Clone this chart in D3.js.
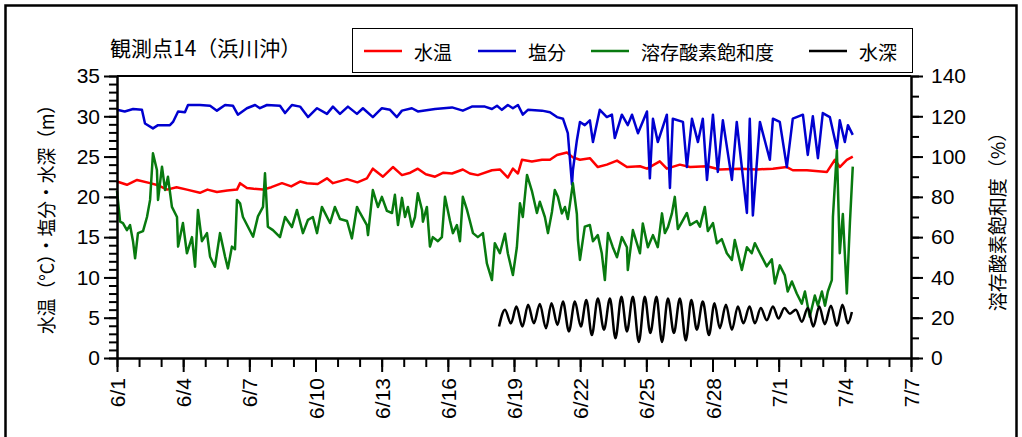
<!DOCTYPE html>
<html>
<head>
<meta charset="utf-8">
<script src="https://cdn.jsdelivr.net/npm/d3@7"></script>
<style>
    body { margin: 0; background: #fff; }
    text { font-family: "Liberation Sans", Arial, sans-serif; }
    .jp { font-family: "Noto Sans CJK JP", sans-serif; }
</style>
</head>
<body>
<div id="wrapper"></div>
<script>
// time = days since 6/1 00:00
const xTickLabels = ["6/1","6/4","6/7","6/10","6/13","6/16","6/19","6/22","6/25","6/28","7/1","7/4","7/7"];
const seriesNames = ["水温", "塩分", "溶存酸素飽和度", "水深"];
const seriesColors = ["#ff0000", "#0000d0", "#087a0f", "#000000"];

// 水温 (°C)
const tempData = [
    [0.00,21.9],[0.45,21.5],[0.91,22.1],[1.50,21.7],[1.90,21.4],[2.27,20.9],[2.70,21.2],[3.17,20.9],
    [3.76,20.5],[4.10,20.9],[4.53,20.6],[5.00,20.8],[5.44,20.9],[5.58,21.7],[5.89,21.1],[6.20,21.0],
    [6.62,20.9],[7.00,21.2],[7.48,21.7],[7.90,21.3],[8.30,21.9],[8.61,21.7],[9.10,21.6],[9.52,22.3],
    [9.79,21.7],[10.43,22.2],[10.90,21.8],[11.33,22.3],[11.60,23.5],[12.06,22.5],[12.51,23.7],[12.92,22.7],
    [13.30,23.0],[13.64,23.5],[14.00,22.8],[14.42,22.5],[14.80,23.0],[15.19,22.9],[15.68,23.4],[16.00,22.9],
    [16.36,22.7],[17.00,23.3],[17.36,23.4],[17.72,22.4],[17.95,23.5],[18.18,22.9],[18.36,24.6],[18.81,24.4],
    [19.27,24.6],[19.63,24.6],[19.95,25.2],[20.40,25.5],[20.67,24.9],[20.99,24.6],[21.44,24.8],[21.80,23.7],
    [22.21,24.0],[22.67,24.5],[23.12,23.7],[23.71,23.8],[24.03,23.5],[24.61,24.4],[24.93,23.5],[25.52,24.0],
    [25.98,23.7],[26.75,23.8],[27.33,23.4],[28.24,23.5],[29.01,23.4],[29.74,23.5],[30.37,23.7],[30.64,23.3],
    [31.28,23.3],[32.19,23.1],[32.55,24.6],[32.77,23.7],[33.09,24.6],[33.36,25.0]
];

// 塩分
const salData = [
    [0.00,30.8],[0.35,30.6],[0.73,30.9],[1.13,30.8],[1.27,29.1],[1.63,28.5],[1.86,28.9],[2.40,28.9],
    [2.54,29.3],[2.77,30.6],[3.08,30.5],[3.22,31.4],[3.76,31.4],[4.22,31.3],[4.53,30.7],[4.90,31.4],
    [5.26,31.3],[5.48,30.2],[5.89,31.0],[6.26,31.4],[6.48,31.0],[6.80,31.4],[7.39,31.3],[7.62,30.4],
    [7.93,31.4],[8.30,31.2],[8.66,29.9],[9.07,31.0],[9.52,30.3],[9.79,31.2],[10.11,30.3],[10.47,31.2],
    [10.88,30.3],[11.15,31.0],[11.60,29.9],[12.01,31.0],[12.38,30.8],[12.69,29.9],[12.92,30.7],[13.37,31.0],
    [13.64,30.6],[14.42,30.9],[15.19,31.1],[15.68,30.7],[16.09,31.2],[16.68,31.2],[17.00,30.9],[17.23,31.3],
    [17.45,30.8],[17.72,31.4],[17.95,31.0],[18.18,31.4],[18.40,30.2],[18.63,30.8],[19.27,30.7],[19.63,30.5],
    [19.95,29.9],[20.22,29.7],[20.44,27.9],[20.63,21.5],[20.67,23.3],[20.85,27.0],[20.99,29.3],[21.21,28.9],
    [21.44,29.5],[21.58,26.8],[21.89,30.8],[22.21,29.9],[22.44,30.2],[22.57,27.3],[22.89,30.2],[23.16,28.9],
    [23.35,30.2],[23.62,27.9],[24.03,30.6],[24.16,22.3],[24.30,29.7],[24.52,26.8],[24.93,30.2],[25.07,21.1],
    [25.20,29.7],[25.66,29.3],[25.84,23.7],[26.07,29.7],[26.34,26.8],[26.56,29.7],[26.75,22.1],[27.02,30.2],
    [27.24,23.1],[27.47,29.5],[27.88,22.1],[28.10,29.3],[28.56,18.0],[28.69,29.7],[28.83,17.7],[29.15,29.3],
    [29.60,24.6],[29.74,29.7],[30.05,29.3],[30.37,23.7],[30.64,29.7],[31.10,30.2],[31.32,25.2],[31.55,30.0],
    [31.78,24.8],[32.00,30.4],[32.32,29.9],[32.64,26.0],[32.77,29.5],[33.00,26.8],[33.14,28.9],[33.36,27.7]
];

// 溶存酸素飽和度 (%)
const doData = [
    [0.00,83],[0.14,67.7],[0.27,67],[0.45,63.5],[0.59,66],[0.73,57.7],[0.82,49.5],[0.95,62],
    [1.18,63],[1.36,70],[1.50,78.5],[1.63,101.6],[1.81,93.3],[1.86,78.5],[2.04,95],[2.18,83.4],
    [2.31,90],[2.49,75],[2.72,70],[2.77,55.3],[2.99,67],[3.17,52],[3.40,60],[3.54,45.3],
    [3.67,73.5],[3.85,58],[4.08,62],[4.22,50.3],[4.44,45.3],[4.67,62],[4.90,50.3],[5.03,44.5],
    [5.21,55.3],[5.35,54],[5.44,78.5],[5.58,76.8],[5.71,70],[6.17,60.2],[6.39,70.3],[6.62,75],
    [6.71,91.7],[6.84,65.2],[7.07,63.5],[7.39,60],[7.62,70],[7.93,65],[8.16,73.5],[8.43,62],
    [8.66,68.6],[8.88,70],[9.07,62],[9.29,75],[9.66,67],[9.88,75],[10.11,69],[10.43,68],
    [10.65,59.4],[10.88,75],[11.02,72],[11.33,66],[11.38,61],[11.60,83.4],[11.83,75],[12.01,80],
    [12.24,73],[12.47,72],[12.60,81],[12.74,66],[12.92,79.5],[13.06,70],[13.19,75],[13.37,65.2],
    [13.51,70],[13.64,81.8],[13.83,73.5],[13.87,67.7],[14.05,75],[14.19,55.3],[14.32,60],[14.55,58],
    [14.73,60],[14.87,80],[15.10,68],[15.23,62],[15.41,66],[15.55,58],[15.68,80],[15.87,73.5],
    [16.00,68],[16.14,62],[16.36,60],[16.59,62],[16.77,47],[17.00,38.7],[17.13,57],[17.36,52],
    [17.59,61.7],[17.72,52],[17.95,41.2],[18.13,55],[18.27,76.8],[18.40,70],[18.59,90.9],[18.81,83],
    [19.04,72],[19.17,77.6],[19.40,70],[19.54,62],[19.72,72.5],[19.85,83.4],[19.99,80],[20.17,71.8],
    [20.31,75],[20.44,69],[20.67,86.7],[20.85,71.5],[20.90,58.6],[20.99,48.7],[21.21,65.2],[21.44,66],
    [21.58,58],[21.80,61],[21.98,52],[22.12,38.7],[22.26,62],[22.48,55],[22.67,50],[22.89,60],
    [23.12,55],[23.16,43.7],[23.39,63.5],[23.71,52],[23.84,66.8],[24.07,55],[24.30,61],[24.52,55],
    [24.71,71.8],[24.84,62],[24.98,65],[25.16,71.8],[25.29,80],[25.43,64],[25.66,68.5],[25.84,72],
    [25.98,66],[26.29,68],[26.43,65.2],[26.65,75],[26.79,63],[27.02,67],[27.20,57],[27.42,59],
    [27.65,52],[27.88,48.7],[28.01,58.6],[28.33,43.7],[28.56,55],[28.78,52],[28.92,57],[29.15,52],
    [29.46,45.5],[29.69,49],[29.83,37],[30.05,46],[30.28,41],[30.41,33],[30.60,38],[30.82,32],
    [31.05,27],[31.19,33],[31.41,20.5],[31.64,31],[31.78,26],[31.96,33],[32.10,26],[32.23,33],
    [32.41,38.7],[32.46,70],[32.64,103],[32.77,52],[32.91,71.5],[33.09,32],[33.23,67],[33.36,95]
];

// 水深 (m): high / low water
const depthData = [
    [17.32,3.9],[17.59,6.0],[17.86,4.3],[18.11,6.4],[18.38,3.9],[18.64,6.6],[18.90,4.3],[19.17,6.7],
    [19.45,3.7],[19.70,6.8],[19.97,4.1],[20.22,7.0],[20.49,3.3],[20.76,7.0],[21.03,3.9],[21.28,7.2],
    [21.53,2.85],[21.80,7.4],[22.08,3.5],[22.35,7.4],[22.60,2.45],[22.87,7.6],[23.12,3.3],[23.39,7.6],
    [23.66,2.0],[23.93,7.6],[24.18,3.1],[24.46,7.6],[24.71,2.0],[24.98,7.4],[25.25,3.1],[25.52,7.4],
    [25.79,2.2],[26.04,7.2],[26.29,3.5],[26.56,7.0],[26.84,2.85],[27.09,6.8],[27.33,3.7],[27.61,6.6],
    [27.88,3.5],[28.15,6.4],[28.40,4.3],[28.68,6.4],[28.92,4.3],[29.19,6.2],[29.46,4.7],[29.74,6.4],
    [29.99,4.9],[30.26,6.2],[30.51,5.5],[30.78,6.0],[31.05,4.5],[31.32,6.2],[31.57,3.9],[31.84,6.4],
    [32.09,4.2],[32.37,6.5],[32.64,4.0],[32.89,6.6],[33.14,4.3],[33.32,5.7]
];

const dimension = {
    width: 1022,
    height: 437,
    margin: { top: 76, right: 111, bottom: 79, left: 117 }
};
dimension.boundedWidth = dimension.width - dimension.margin.left - dimension.margin.right;
dimension.boundedHeight = dimension.height - dimension.margin.top - dimension.margin.bottom;

const svg = d3.select("#wrapper")
    .append("svg")
    .attr("width", dimension.width)
    .attr("height", dimension.height);

// outer frame
svg.append("rect")
    .attr("x", 5.5).attr("y", 5.5)
    .attr("width", 1011).attr("height", 460)
    .attr("fill", "none").attr("stroke", "#000").attr("stroke-width", 2.5);

const bounds = svg.append("g")
    .attr("transform", `translate(${dimension.margin.left},${dimension.margin.top})`);

const x = d3.scaleLinear().domain([0, 36]).range([0, dimension.boundedWidth]);
const yL = d3.scaleLinear().domain([0, 35]).range([dimension.boundedHeight, 0]);
const yR = d3.scaleLinear().domain([0, 140]).range([dimension.boundedHeight, 0]);

// plot frame (top line)
bounds.append("line")
    .attr("x1", 0).attr("x2", dimension.boundedWidth)
    .attr("y1", 0).attr("y2", 0)
    .attr("stroke", "#000").attr("stroke-width", 2);

// series
const series = [
    { data: tempData, y: yL, color: seriesColors[0], curve: d3.curveLinear },
    { data: salData, y: yL, color: seriesColors[1], curve: d3.curveLinear },
    { data: doData, y: yR, color: seriesColors[2], curve: d3.curveLinear },
    { data: depthData, y: yL, color: seriesColors[3], curve: d3.curveMonotoneX }
];
series.forEach(s => {
    const line = d3.line()
        .x(d => x(d[0]))
        .y(d => s.y(d[1]))
        .curve(s.curve);
    bounds.append("path")
        .datum(s.data)
        .attr("d", line)
        .attr("fill", "none")
        .attr("stroke", s.color)
        .attr("stroke-width", 2.5)
        .attr("stroke-linejoin", "round");
});

function styleAxis(g) {
    g.selectAll(".domain").attr("stroke", "#000").attr("stroke-width", 2);
    g.selectAll(".tick line").attr("stroke", "#000").attr("stroke-width", 2);
    g.selectAll("text").attr("fill", "#000").style("font-size", "21px")
        .style("font-family", "'Liberation Sans', Arial, sans-serif");
}

// left axis
bounds.append("g")
    .call(d3.axisLeft(yL).tickValues(d3.range(0, 36, 1)).tickSize(8).tickSizeOuter(0).tickFormat(""))
    .call(styleAxis);
bounds.append("g")
    .call(d3.axisLeft(yL).tickValues(d3.range(0, 36, 5)).tickSize(13).tickSizeOuter(0).tickPadding(4))
    .call(styleAxis);

// right axis
const rightAxis = bounds.append("g").attr("transform", `translate(${dimension.boundedWidth},0)`);
rightAxis.append("g")
    .call(d3.axisRight(yR).tickValues(d3.range(0, 141, 10)).tickSize(8).tickSizeOuter(0).tickFormat(""))
    .call(styleAxis);
rightAxis.append("g")
    .call(d3.axisRight(yR).tickValues(d3.range(0, 141, 20)).tickSize(12).tickSizeOuter(0).tickPadding(8))
    .call(styleAxis);

// bottom axis
const bottomAxis = bounds.append("g").attr("transform", `translate(0,${dimension.boundedHeight})`);
bottomAxis.append("g")
    .call(d3.axisBottom(x).tickValues(d3.range(0, 37, 1)).tickSize(9).tickSizeOuter(0).tickFormat(""))
    .call(styleAxis);
bottomAxis.append("g")
    .call(d3.axisBottom(x).tickValues(d3.range(0, 37, 3)).tickSize(14).tickSizeOuter(0)
        .tickFormat((d, i) => xTickLabels[i]))
    .call(styleAxis)
    .selectAll("text")
    .attr("x", -20)
    .attr("y", 0)
    .attr("dy", "0.36em")
    .attr("transform", "rotate(-90)")
    .style("text-anchor", "end");

// titles
svg.append("text")
    .attr("class", "jp")
    .attr("x", 110).attr("y", 56)
    .style("font-size", "21px")
    .text("観測点14（浜川沖）");

svg.append("text")
    .attr("class", "jp")
    .attr("transform", "translate(45,215) rotate(-90)")
    .attr("text-anchor", "middle")
    .attr("dominant-baseline", "central")
    .attr("textLength", 238)
    .attr("lengthAdjust", "spacingAndGlyphs")
    .style("font-size", "19px")
    .text("水温（°C）・塩分・水深（m）");

svg.append("text")
    .attr("class", "jp")
    .attr("transform", "translate(996,217) rotate(-90)")
    .attr("text-anchor", "middle")
    .attr("dominant-baseline", "central")
    .style("font-size", "19px")
    .text("溶存酸素飽和度（%）");

// legend
const legend = svg.append("g");
legend.append("rect")
    .attr("x", 352.5).attr("y", 28.5)
    .attr("width", 560).attr("height", 44)
    .attr("fill", "#fff").attr("stroke", "#000").attr("stroke-width", 1);
const legendX = [364, 478, 591, 809];
seriesNames.forEach((name, i) => {
    const g = legend.append("g").attr("transform", `translate(${legendX[i]},51)`);
    g.append("line")
        .attr("x1", 0).attr("x2", 38)
        .attr("stroke", seriesColors[i]).attr("stroke-width", 2.4);
    g.append("text")
        .attr("class", "jp")
        .attr("x", 50)
        .attr("dominant-baseline", "central")
        .style("font-size", "19px")
        .text(name);
});
</script>
</body>
</html>
